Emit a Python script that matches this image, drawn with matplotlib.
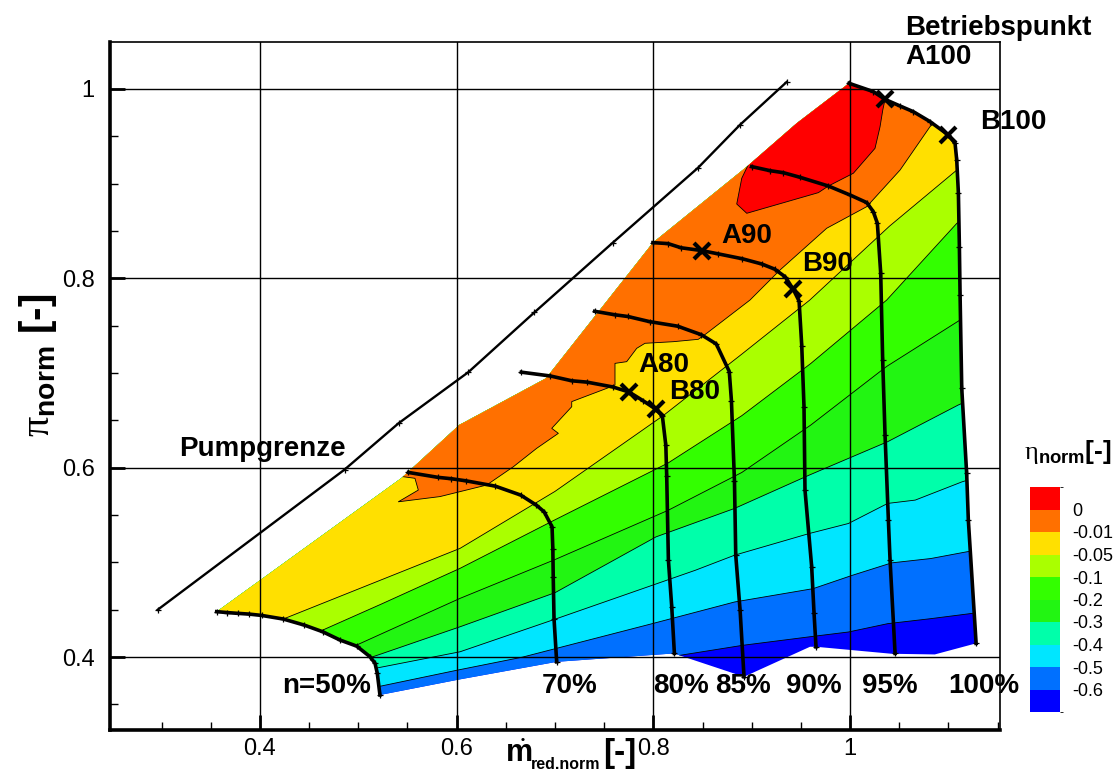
import numpy as np
import matplotlib
matplotlib.use('Agg')
import matplotlib.pyplot as plt
from matplotlib.patches import Polygon
from matplotlib.colors import ListedColormap, BoundaryNorm
from matplotlib.cm import ScalarMappable

plt.rcParams['font.family'] = ['Liberation Sans', 'DejaVu Sans']
plt.rcParams['mathtext.fontset'] = 'custom'
plt.rcParams['mathtext.rm'] = 'Liberation Serif'
plt.rcParams['mathtext.bf'] = 'Liberation Sans:bold'
plt.rcParams['mathtext.sf'] = 'Liberation Sans'

# speed lines (m_red,norm, pi_norm)
x50 = [0.356, 0.3667, 0.3773, 0.389, 0.4017, 0.4237, 0.445, 0.4637, 0.4814, 0.4983, 0.5119, 0.517, 0.5193, 0.522]
y50 = [0.448, 0.447, 0.4462, 0.4454, 0.444, 0.4402, 0.4338, 0.4268, 0.418, 0.4116, 0.4004, 0.3934, 0.3828, 0.360]
x70 = [0.551, 0.5812, 0.5944, 0.6092, 0.6391, 0.6651, 0.681, 0.689, 0.697, 0.6978, 0.6982, 0.699, 0.7017]
y70 = [0.595, 0.5898, 0.5884, 0.5862, 0.5806, 0.5711, 0.5605, 0.5534, 0.5376, 0.5146, 0.4847, 0.4406, 0.395]
x80 = [0.6658, 0.6952, 0.7171, 0.7325, 0.7588, 0.7754, 0.7895, 0.8026, 0.8092, 0.8127, 0.8136, 0.8153, 0.8187, 0.8214]
y80 = [0.7009, 0.6969, 0.6918, 0.6904, 0.6853, 0.6799, 0.6708, 0.6617, 0.6544, 0.6236, 0.5909, 0.5025, 0.4532, 0.4039]
x85 = [0.7404, 0.761, 0.7741, 0.7961, 0.8246, 0.8487, 0.864, 0.8772, 0.8794, 0.8825, 0.8838, 0.8882, 0.8922]
y85 = [0.7652, 0.7615, 0.7597, 0.7543, 0.7495, 0.7405, 0.7307, 0.7016, 0.6708, 0.5855, 0.5074, 0.4497, 0.3792]
x90 = [0.7996, 0.8149, 0.8281, 0.8487, 0.8662, 0.8904, 0.9101, 0.9232, 0.9342, 0.9421, 0.9482, 0.9509,
       0.9532, 0.9542, 0.961, 0.9634, 0.9654]
y90 = [0.8377, 0.8367, 0.8323, 0.8294, 0.8258, 0.8207, 0.8152, 0.8098, 0.8015, 0.7887, 0.776, 0.7289,
       0.6644, 0.5764, 0.4954, 0.4465, 0.4109]
x95 = [0.9, 0.9187, 0.9322, 0.9492, 0.978, 1.0, 1.017, 1.0237, 1.0278, 1.0312, 1.0332, 1.0356, 1.039, 1.0407, 1.0458]
y95 = [0.918, 0.9137, 0.9116, 0.9067, 0.8975, 0.888, 0.88, 0.8704, 0.8581, 0.8053, 0.7138, 0.6345, 0.5447, 0.5025, 0.4039]
x100 = [0.999, 1.0237, 1.0356, 1.0509, 1.0644, 1.0814, 1.10, 1.1068, 1.1085, 1.1102, 1.1112, 1.1119, 1.1136,
        1.1186, 1.1203, 1.1282]
y100 = [1.006, 0.9972, 0.989, 0.982, 0.976, 0.9655, 0.9514, 0.9426, 0.925, 0.8898, 0.8334, 0.7824, 0.6838,
        0.594, 0.5447, 0.4145]
speed_labels = ['n=50%', '70%', '80%', '85%', '90%', '95%', '100%']
speed_label_x = [0.423, 0.6865, 0.7997, 0.8627, 0.9349, 1.0122, 1.0997]

# Pumpgrenze (surge line)
x_pg = [0.296, 0.486, 0.541, 0.612, 0.679, 0.7588, 0.8456, 0.888, 0.9355]
y_pg = [0.450, 0.598, 0.647, 0.701, 0.764, 0.8377, 0.9169, 0.962, 1.0073]

# operating points
op_names = ['A100', 'B100', 'A90', 'B90', 'A80', 'B80']
op_x = [1.0356, 1.10, 0.849, 0.9421, 0.7754, 0.8026]
op_y = [0.989, 0.9514, 0.8294, 0.7887, 0.6799, 0.6617]

# outline of the evaluated field
edge_x = [0.356, 0.5439, 0.603, 0.6096, 0.6908, 0.7996, 0.8947, 0.9458, 0.999]
edge_y = [0.448, 0.5891, 0.6454, 0.649, 0.6944, 0.8377, 0.9176, 0.9638, 1.006]
bot_x = [1.0862, 1.0423, 0.9654, 0.9593, 0.8922, 0.8267, 0.8214, 0.7017, 0.6034]
bot_y = [0.4028, 0.4035, 0.4109, 0.4109, 0.3792, 0.4018, 0.4039, 0.395, 0.3765]

# eta_norm iso-lines
levels = [0, -0.01, -0.05, -0.1, -0.2, -0.3, -0.4, -0.5, -0.6]
level_labels = ['0', '-0.01', '-0.05', '-0.1', '-0.2', '-0.3', '-0.4', '-0.5', '-0.6']
band_colors = ['#ff0000', '#ff7000', '#ffe000', '#aaff00', '#33ff00', '#22f512',
               '#00ffaa', '#00e6ff', '#0070ff', '#0000ff']
iso_x = [
    [0.897, 0.8899, 0.8848, 0.895, 0.9678, 0.978, 1.0034, 1.0254, 1.0305, 1.0333, 1.0356, 1.045],
    [0.535, 0.5458, 0.5576, 0.561, 0.5407, 0.583, 0.6305, 0.6576, 0.6814, 0.7034, 0.6967, 0.717, 0.717,
     0.7526, 0.761, 0.761, 0.7729, 0.7831, 0.7915, 0.8203, 0.8457, 0.8542, 0.8983, 0.9288, 0.9763,
     1.017, 1.0509, 1.0814, 1.095],
    [0.4237, 0.5234, 0.6034, 0.70, 0.81, 0.89, 0.959, 1.04, 1.107, 1.13],
    [0.4637, 0.5234, 0.6034, 0.70, 0.815, 0.89, 0.96, 1.0373, 1.1085, 1.13],
    [0.4983, 0.5234, 0.6034, 0.70, 0.815, 0.89, 0.96, 1.0373, 1.1119, 1.13],
    [0.5129, 0.5234, 0.6034, 0.70, 0.8028, 0.8826, 0.9585, 1.0383, 1.1102, 1.13],
    [0.517, 0.5234, 0.6034, 0.70, 0.8427, 0.8826, 0.9585, 0.9984, 1.0383, 1.0663, 1.1142, 1.13],
    [0.5203, 0.5992, 0.6671, 0.7988, 0.8826, 0.9625, 1.0024, 1.0423, 1.0822, 1.1182, 1.14],
    [0.826, 0.8267, 0.8906, 0.9625, 0.9984, 1.0383, 1.0822, 1.1222, 1.14],
]
iso_y = [
    [0.921, 0.9057, 0.8785, 0.8687, 0.8905, 0.8975, 0.911, 0.9373, 0.96, 0.9778, 0.989, 0.997],
    [0.5905, 0.5905, 0.5888, 0.5764, 0.564, 0.5695, 0.5817, 0.601, 0.6205, 0.6363, 0.6416, 0.6644, 0.6698,
     0.6838, 0.6873, 0.7102, 0.712, 0.7261, 0.7314, 0.7331, 0.7356, 0.7419, 0.7771, 0.8088, 0.8529,
     0.8757, 0.9144, 0.9603, 0.972],
    [0.4402, 0.4816, 0.5148, 0.575, 0.655, 0.72, 0.777, 0.855, 0.913, 0.93],
    [0.4285, 0.456, 0.4937, 0.545, 0.605, 0.655, 0.71, 0.7771, 0.858, 0.875],
    [0.4127, 0.4245, 0.462, 0.503, 0.555, 0.595, 0.645, 0.707, 0.756, 0.77],
    [0.3997, 0.4034, 0.432, 0.468, 0.527, 0.557, 0.5922, 0.6275, 0.6663, 0.675],
    [0.3881, 0.3894, 0.4056, 0.44, 0.4917, 0.5076, 0.5305, 0.5411, 0.5623, 0.5658, 0.5852, 0.59],
    [0.3688, 0.3859, 0.40, 0.4353, 0.4582, 0.4723, 0.4864, 0.4995, 0.5041, 0.5111, 0.515],
    [0.30, 0.4018, 0.4124, 0.4219, 0.4265, 0.4353, 0.4406, 0.4459, 0.448],
]

fig = plt.figure(figsize=(11.2, 7.71), dpi=100)
ax = fig.add_axes([110 / 1120, 41 / 771, 890 / 1120, 688 / 771])

# field: lowest band as base, then each band above its iso-line
reg_x = edge_x + x100[1:] + bot_x + x50[::-1]
reg_y = edge_y + y100[1:] + bot_y + y50[::-1]
region = Polygon(np.column_stack([reg_x, reg_y]), closed=True,
                 facecolor=band_colors[-1], edgecolor='none', zorder=1)
ax.add_patch(region)
for k in reversed(range(len(levels))):
    px = [0.1] + iso_x[k] + [1.3, 1.3, 0.1]
    py = [iso_y[k][0]] + iso_y[k] + [iso_y[k][-1], 1.3, 1.3]
    p = Polygon(np.column_stack([px, py]), closed=True,
                facecolor=band_colors[k], edgecolor='none', zorder=1)
    ax.add_patch(p)
    p.set_clip_path(region)
for xs, ys in zip(iso_x, iso_y):
    ln, = ax.plot(xs, ys, color='k', lw=0.6, zorder=1.5)
    ln.set_clip_path(region)

# speed lines
for xs, ys in [(x50, y50), (x70, y70), (x80, y80), (x85, y85), (x90, y90), (x95, y95), (x100, y100)]:
    ax.plot(xs, ys, color='k', lw=2.6, marker='+', ms=4, mew=0.9, zorder=3)
ax.plot(x_pg, y_pg, color='k', lw=1.7, marker='+', ms=4, mew=0.9, zorder=3)
ax.plot(op_x, op_y, ls='none', marker='x', ms=11, mew=3, color='k', zorder=4)

tkw = dict(fontsize=20, fontweight='bold', zorder=5, clip_on=False)
for s, x in zip(speed_labels, speed_label_x):
    ax.text(x, 0.3694, s, ha='left', va='center', **tkw)
ax.text(0.3176, 0.6197, 'Pumpgrenze', ha='left', va='center', **tkw)
ax.text(1.056, 1.0644, 'Betriebspunkt', ha='left', va='center', **tkw)
ax.text(1.056, 1.0338, 'A100', ha='left', va='center', **tkw)
ax.text(1.1322, 0.965, 'B100', ha='left', va='center', **tkw)
ax.text(0.869, 0.845, 'A90', ha='left', va='center', **tkw)
ax.text(0.951, 0.815, 'B90', ha='left', va='center', **tkw)
ax.text(0.7844, 0.7085, 'A80', ha='left', va='center', **tkw)
ax.text(0.816, 0.680, 'B80', ha='left', va='center', **tkw)

ax.set_xlim(0.2475, 1.1525)
ax.set_ylim(0.323, 1.0496)
ax.set_xticks([0.4, 0.6, 0.8, 1.0])
ax.set_xticklabels(['0.4', '0.6', '0.8', '1'])
ax.set_yticks([0.4, 0.6, 0.8, 1.0])
ax.set_yticklabels(['0.4', '0.6', '0.8', '1'])
ax.set_xticks(np.arange(0.30, 1.151, 0.05), minor=True)
ax.set_yticks(np.arange(0.35, 1.05, 0.05), minor=True)
ax.tick_params(which='major', direction='in', length=11, width=2, labelsize=17, pad=6)
ax.tick_params(which='minor', direction='in', length=6, width=1)
ax.tick_params(axis='y', which='major', pad=11)
ax.grid(True, which='major', color='k', lw=1.0)
ax.set_axisbelow(False)
for side in ['left', 'bottom']:
    ax.spines[side].set_linewidth(2.6)
for side in ['top', 'right']:
    ax.spines[side].set_linewidth(1.2)

# axis titles
fig.text(505 / 1120, (771 - 762) / 771, r'$\dot{\mathbf{m}}$', fontsize=22, ha='left', va='baseline')
fig.text(531 / 1120, (771 - 769) / 771, 'red.norm', fontsize=11.5, fontweight='bold',
         ha='left', va='baseline')
fig.text(603 / 1120, (771 - 762) / 771, '[-]', fontsize=24, fontweight='bold', ha='left', va='baseline')
fig.text(38 / 1120, (771 - 365) / 771, r'$\mathrm{\pi}_{\mathbf{norm}}$ [-]',
         fontsize=29, fontweight='bold', ha='center', va='center', rotation=90)

# legend bar
cax = fig.add_axes([1030 / 1120, (771 - 712) / 771, 30 / 1120, 225 / 771])
bounds = [-0.7, -0.6, -0.5, -0.4, -0.3, -0.2, -0.1, -0.05, -0.01, 0, 0.01]
cmap = ListedColormap(band_colors[::-1])
sm = ScalarMappable(norm=BoundaryNorm(bounds, cmap.N), cmap=cmap)
cb = fig.colorbar(sm, cax=cax, boundaries=bounds, ticks=levels, spacing='uniform')
cb.outline.set_visible(False)
cb.ax.set_yticklabels(level_labels)
cb.ax.tick_params(length=0, labelsize=13, pad=9)
fig.text(1068 / 1120, (771 - 452) / 771, r'$\mathrm{\eta}_{\mathbf{norm}}$[-]',
         fontsize=19, fontweight='bold', ha='center', va='center')

fig.savefig('out.png', dpi=100)
